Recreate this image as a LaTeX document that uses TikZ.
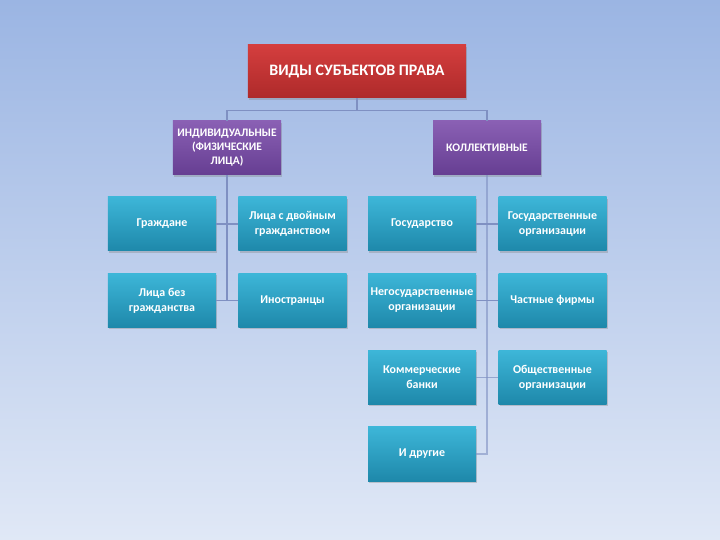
\documentclass[tikz,border=0pt]{standalone}
\usepackage{fontspec}
\setmainfont{Carlito}
\usepackage{tikz}
\usetikzlibrary{shadows}
\definecolor{bgtop}{HTML}{9BB5E3}
\definecolor{bgbot}{HTML}{E0E8F6}
\definecolor{redtop}{HTML}{D43E3E}
\definecolor{redbot}{HTML}{AE2A2A}
\definecolor{viotop}{HTML}{8A60B4}
\definecolor{viobot}{HTML}{663E92}
\definecolor{teatop}{HTML}{3DB6D8}
\definecolor{teabot}{HTML}{1E88AA}
\definecolor{linkcol}{HTML}{7F90C2}

\begin{document}
\begin{tikzpicture}[x=0.03cm,y=-0.03cm,
  box/.style={rectangle,minimum width=3.24cm,minimum height=1.62cm,align=center,
    text=white,font=\fontsize{10.2}{12.8}\selectfont\bfseries,inner sep=1pt,
    drop shadow={shadow xshift=1.2pt,shadow yshift=-1.6pt,opacity=0.35}},
  leaf/.style={box,top color=teatop,bottom color=teabot},
  group/.style={box,top color=viotop,bottom color=viobot,font=\fontsize{9.8}{12}\selectfont\bfseries},
  link/.style={draw=linkcol,line width=0.9pt}]
  \shade[top color=bgtop,bottom color=bgbot] (0,0) rectangle (720,540);
  \node[box,top color=redtop,bottom color=redbot,minimum width=6.54cm,minimum height=1.59cm,
    font=\fontsize{13.6}{15}\selectfont\bfseries] (title) at (357,71.5) {ВИДЫ СУБЪЕКТОВ ПРАВА};
  \node[group] (indiv) at (227,148) {ИНДИВИДУАЛЬНЫЕ\\(ФИЗИЧЕСКИЕ\\ЛИЦА)};
  \node[group] (collect) at (487,148) {КОЛЛЕКТИВНЫЕ};
  \node[leaf] (citizens) at (162,224) {Граждане};
  \node[leaf] (dual) at (292.5,224) {Лица с двойным\\гражданством};
  \node[leaf] (stateless) at (162,300.5) {Лица без\\гражданства};
  \node[leaf] (foreign) at (292.5,300.5) {Иностранцы};
  \node[leaf] (state) at (422,224) {Государство};
  \node[leaf] (stateorg) at (552.5,224) {Государственные\\организации};
  \node[leaf] (nonstate) at (422,300.5) {Негосударственные\\организации};
  \node[leaf] (private) at (552.5,300.5) {Частные фирмы};
  \node[leaf] (banks) at (422,377.5) {Коммерческие\\банки};
  \node[leaf] (public) at (552.5,377.5) {Общественные\\организации};
  \node[leaf] (others) at (422,454) {И другие};
  % connectors
  \draw[link] (title.south) -- ++(0,12) -| (indiv.north);
  \draw[link] (title.south) -- ++(0,12) -| (collect.north);
  \draw[link] (indiv.south) -- (indiv.south |- stateless.east);
  \draw[link] (citizens.east) -- (dual.west);
  \draw[link] (stateless.east) -- (foreign.west);
  \draw[link,draw opacity=0.6] (collect.south) -- (collect.south |- others.east) -- (others.east);
  \draw[link] (state.east) -- (stateorg.west);
  \draw[link] (nonstate.east) -- (private.west);
  \draw[link,draw opacity=0.7] (banks.east) -- (public.west);
\end{tikzpicture}
\end{document}
